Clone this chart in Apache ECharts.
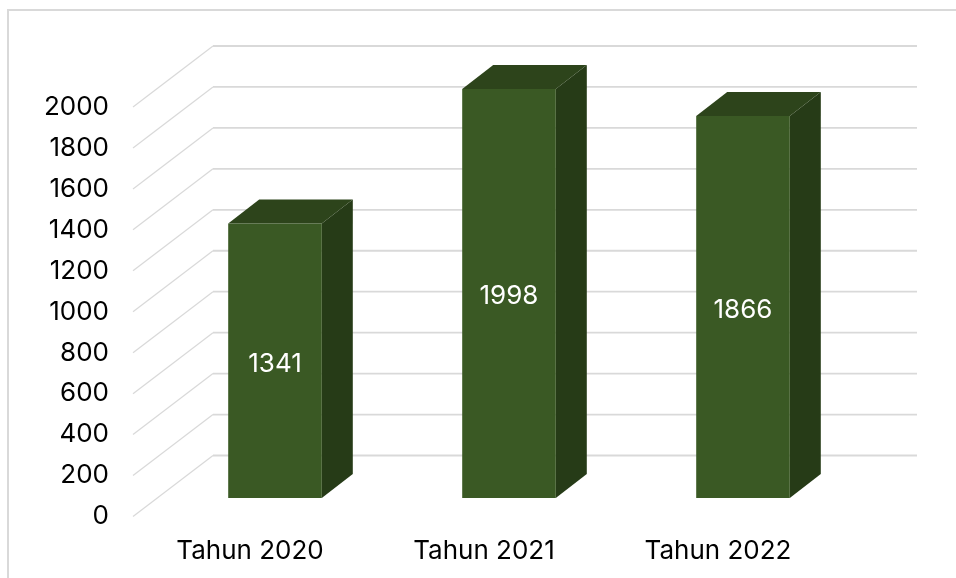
<!DOCTYPE html>
<html>
<head>
<meta charset="utf-8">
<style>html,body{margin:0;padding:0;background:#fff}#c{width:956px;height:578px}</style>
<script src="https://cdn.jsdelivr.net/npm/echarts@6/dist/echarts.min.js"></script>
</head>
<body>
<div id="c"></div>
<script>
const categories = ['Tahun 2020', 'Tahun 2021', 'Tahun 2022'];
const values = [1341, 1998, 1866];
const yTicks = [0, 200, 400, 600, 800, 1000, 1200, 1400, 1600, 1800, 2000];

const FONT = 'Inter, "Liberation Sans", Arial, sans-serif';
const GRID_COLOR = '#d9d9d9';
const WALL = [80, -61];        // front plane to back wall
const BAR_SHIFT = [25, -18.5]; // front plane to bar front
const BAR_DEPTH = [31, -24];   // bar front to bar back
const FRONT = '#3a5924', TOP = '#2d441b', SIDE = '#263b17';

const chart = echarts.init(document.getElementById('c'), null, {renderer: 'canvas'});
chart.setOption({
  animation: false,
  backgroundColor: '#fff',
  grid: {left: 133, top: 107, width: 702, height: 409.5, containLabel: false},
  xAxis: {
    type: 'category', data: categories,
    axisLine: {show: false}, axisTick: {show: false}, splitLine: {show: false},
    axisLabel: {color: '#000', fontFamily: FONT, fontSize: 26, margin: 22}
  },
  yAxis: {
    type: 'value', min: 0, max: 2000, interval: 200,
    axisLine: {show: false}, axisTick: {show: false}, splitLine: {show: false},
    axisLabel: {color: '#000', fontFamily: FONT, fontSize: 26, margin: 24, padding: [5, 0, 0, 0], formatter: v => String(v)}
  },
  graphic: [{
    type: 'polyline', silent: true, z: 0,
    shape: {points: [[8, 600], [8, 10], [970, 10]]},
    style: {stroke: '#d9d9d9', lineWidth: 2, fill: null}
  }],
  series: [{
    type: 'custom', z: 1, silent: true,
    coordinateSystem: 'cartesian2d',
    data: yTicks.map(v => [0, v]),
    encode: {y: 1},
    renderItem(params, api) {
      const y = api.coord([0, api.value(1)])[1];
      const x0 = params.coordSys.x, xEnd = x0 + params.coordSys.width;
      const bx = x0 + WALL[0], by = y + WALL[1];
      return {type: 'group', children: [
        {type: 'line', shape: {x1: x0, y1: y, x2: bx, y2: by}, style: {stroke: GRID_COLOR, lineWidth: 1.2}},
        {type: 'line', shape: {x1: bx, y1: by, x2: xEnd + WALL[0] + 2, y2: by}, style: {stroke: GRID_COLOR, lineWidth: 1.8}}
      ]};
    }
  }, {
    type: 'custom', z: 2, silent: true,
    coordinateSystem: 'cartesian2d',
    data: categories.map((c, i) => [i, values[i]]),
    encode: {x: 0, y: 1},
    renderItem(params, api) {
      const top = api.coord([api.value(0), api.value(1)]);
      const base = api.coord([api.value(0), 0]);
      const w = api.size([1, 0])[0] * 0.4;
      const l = top[0] + BAR_SHIFT[0] - w / 2, r = l + w;
      const t = top[1] + BAR_SHIFT[1], b = base[1] + BAR_SHIFT[1];
      const dx = BAR_DEPTH[0], dy = BAR_DEPTH[1];
      return {type: 'group', children: [
        {type: 'polygon', shape: {points: [[r, t], [r + dx, t + dy], [r + dx, b + dy], [r, b]]}, style: {fill: SIDE}},
        {type: 'polygon', shape: {points: [[l, t], [l + dx, t + dy], [r + dx, t + dy], [r, t]]}, style: {fill: TOP}},
        {type: 'rect', shape: {x: l, y: t, width: w, height: b - t}, style: {fill: FRONT}},
        {type: 'text', x: (l + r) / 2, y: (t + b) / 2 + 3,
          style: {text: String(api.value(1)), fill: '#fff', font: '26px ' + FONT, align: 'center', verticalAlign: 'middle'}}
      ]};
    }
  }]
});
</script>
</body>
</html>
